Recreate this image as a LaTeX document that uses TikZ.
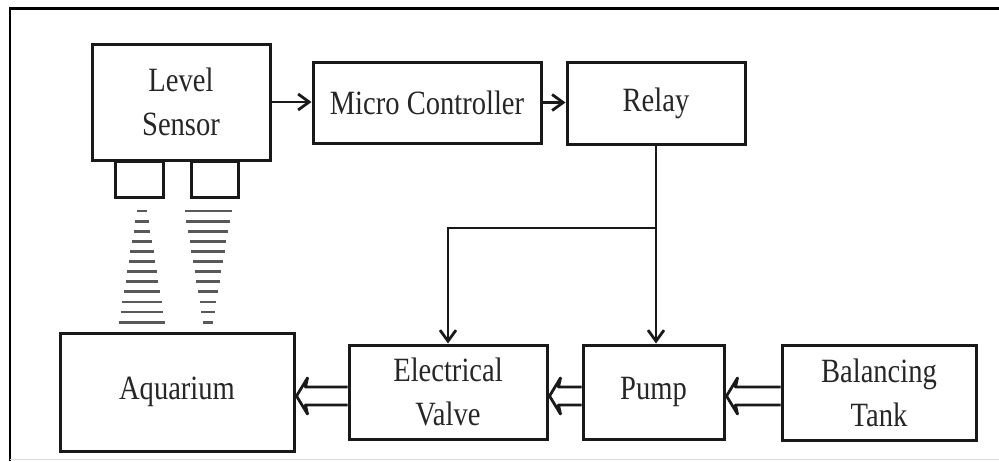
\documentclass[tikz,border=0pt]{standalone}
\usepackage{fontspec}
\setmainfont{Liberation Serif}[FakeStretch=0.84]
\usetikzlibrary{arrows.meta,calc}
\newcommand\fatarrowdraw[3]{%
  \draw[fat] (#1.west |- 0,#3-9) -- ($(#2.east |- 0,#3-9)+(10,0)$)
    -- ($(#2.east |- 0,#3-18)+(12,0)$) -- ($(#2.east |- 0,#3)+(1,0)$)
    -- ($(#2.east |- 0,#3+18)+(12,0)$) -- ($(#2.east |- 0,#3+9)+(10,0)$)
    -- (#1.west |- 0,#3+9);}
\begin{document}
\begin{tikzpicture}[x=1pt,y=-1pt]
\tikzset{
  blk/.style={draw=black!90, line width=3pt, inner sep=0pt, align=center,
    font=\fontsize{34}{44}\selectfont, text=black!85},
  wire/.style={line width=2.8pt, draw=black!90, -{Straight Barb[length=11pt,width=16pt,line width=2.8pt]}},
  fat/.style={line width=2.8pt, draw=black!90, line join=round},
  stripe/.style={line width=2.8pt, draw=black!65},
  frameline/.style={line width=2.4pt}
}
\useasboundingbox (0,0) rectangle (999,461);
% frame
\draw[frameline] (10,461) -- (10,8.5) -- (999,8.5);
\draw[line width=1.5pt, draw=black!15] (10,459.5) -- (999,459.5);
% blocks
\node[blk, minimum width=178pt, minimum height=116pt] (ls) at (181,102) {Level\\Sensor};
\node[blk, minimum width=228pt, minimum height=81pt] (mc) at (427,102.5) {Micro Controller};
\node[blk, minimum width=178pt, minimum height=82pt] (relay) at (656,103) {Relay};
\node[blk, minimum width=234pt, minimum height=118pt] (aq) at (177,392) {Aquarium};
\node[blk, minimum width=198pt, minimum height=94pt] (ev) at (448,392) {Electrical\\Valve};
\node[blk, minimum width=141pt, minimum height=94pt] (pump) at (653.5,392) {Pump};
\node[blk, minimum width=194pt, minimum height=95pt] (bt) at (879,392.5) {Balancing\\Tank};
\node[blk, minimum width=48pt, minimum height=36pt, anchor=north] (s1) at (139,160) {};
\node[blk, minimum width=47pt, minimum height=36pt, anchor=north] (s2) at (214.5,160) {};
% waves
\foreach \i in {0,...,11}{
  \pgfmathsetmacro\yy{211+\i*10.1}
  \pgfmathsetmacro\wl{5+\i*18/11}
  \pgfmathsetmacro\wr{23.5-\i*18.5/11}
  \draw[stripe] (142-\wl,\yy) -- (142+\wl,\yy);
  \draw[stripe] (208-\wr,\yy) -- (208+\wr,\yy);
}
% signal connectors
\draw[wire] (ls.east) -- (ls.east -| mc.west);
\draw[wire] (mc.east) -- (mc.east -| relay.west);
\draw[wire] (relay.south) -- (relay.south |- pump.north);
\draw[wire] (relay.south |- 0,228) -| (ev.north);
% flow connectors
\fatarrowdraw{ev}{aq}{396}
\fatarrowdraw{pump}{ev}{396}
\fatarrowdraw{bt}{pump}{396}
\end{tikzpicture}
\end{document}
